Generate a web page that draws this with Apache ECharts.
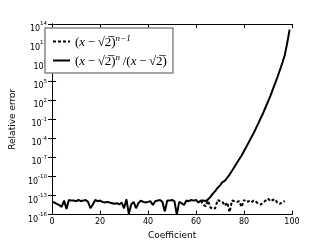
<!DOCTYPE html>
<html><head><meta charset="utf-8">
<script src="https://cdn.jsdelivr.net/npm/echarts@6/dist/echarts.min.js"></script>
<style>html,body{margin:0;padding:0;background:#fff}#c{width:325px;height:245px}</style>
</head><body><div id="c"></div>
<script>
// Series A: (x-sqrt2)^(n-1), coefficients 62..97 (dashed)
const dashStart = 62;
const dashVals = [1.6e-14,4.0e-15,2.0e-15,1.6e-14,1.3e-15,7.9e-16,1.0e-15,2.0e-14,1.3e-14,1.0e-14,
  2.5e-15,7.9e-15,2.5e-16,1.6e-14,1.3e-14,1.0e-14,1.3e-14,1.6e-15,2.0e-14,1.0e-14,
  1.3e-14,7.9e-15,1.6e-14,1.0e-14,5.0e-15,4.0e-15,7.9e-15,1.6e-14,3.2e-14,1.3e-14,
  2.0e-14,2.5e-14,6.3e-15,5.0e-15,1.0e-14,1.3e-14];
// Series B: (x-sqrt2)^n/(x-sqrt2), coefficients 0..99 (solid)
const solidStart = 0;
const solidVals = [1.0e-14,7.9e-15,5.0e-15,3.2e-15,1.6e-15,1.6e-14,7.9e-16,2.0e-14,1.6e-14,1.6e-14,
  1.3e-14,2.0e-14,1.3e-14,1.6e-14,2.0e-14,1.0e-14,1.0e-15,4.0e-15,2.0e-14,1.3e-14,
  1.6e-14,1.0e-14,7.9e-15,1.0e-14,7.9e-15,6.3e-15,5.0e-15,6.3e-15,4.0e-15,7.9e-15,
  1.0e-15,2.5e-14,1.3e-16,4.0e-15,1.0e-14,1.0e-15,6.3e-15,1.6e-14,1.0e-14,7.9e-15,
  1.0e-14,1.3e-14,3.2e-15,1.3e-14,1.6e-14,2.0e-14,1.0e-14,3.2e-16,1.6e-14,1.6e-14,
  2.0e-14,1.3e-14,1.0e-16,1.0e-14,6.3e-15,3.2e-15,1.6e-14,1.3e-14,2.0e-14,1.6e-14,
  2.0e-14,7.9e-15,1.6e-14,1.6e-14,1.3e-14,2.5e-14,6.3e-14,2.0e-13,5.0e-13,1.6e-12,
  4.0e-12,1.3e-11,2.0e-11,6.3e-11,2.0e-10,7.9e-10,3.2e-9,1.3e-8,5.0e-8,2.0e-7,
  1.0e-6,5.0e-6,2.5e-5,1.3e-4,6.3e-4,4.0e-3,2.5e-2,0.16,1.0,7.9,
  63,500,5.0e3,5.0e4,5.0e5,6.3e6,7.9e7,1.3e9,1.0e11,1.3e13];
const xTicks = [0,20,40,60,80,100];
const yExpTicks = [-16,-13,-10,-7,-4,-1,2,5,8,11,14];
const names = ['dash','solid'];

const chart = echarts.init(document.getElementById('c'));
const supLabel = v => {
  const e = Math.round(Math.log10(v));
  return '{b|10}{s|' + e + '}';
};
const F = 'Liberation Serif';
const legendRich = {
  t: {fontFamily:F, fontSize:13, lineHeight:15, verticalAlign:'bottom', color:'#000'},
  i: {fontFamily:F, fontStyle:'italic', fontSize:13, lineHeight:15, verticalAlign:'bottom', color:'#000'},
  s: {fontFamily:F, fontStyle:'italic', fontSize:9, lineHeight:15, verticalAlign:'top', color:'#000'}
};
const T = '\u2009';
const base = '{t|(}{i|x}{t|' + T + '−' + T + '√2̅)}';
const xAxisBase = {type:'value', min:0, max:100, interval:20, splitLine:{show:false},
  axisLine:{show:true, lineStyle:{color:'#000', width:1}},
  axisTick:{show:true, inside:true, length:4, lineStyle:{color:'#000'}}};
const yAxisBase = {type:'log', logBase:10, min:1e-16, max:1e14, interval:3, splitLine:{show:false},
  axisLine:{show:true, lineStyle:{color:'#000', width:1}},
  axisTick:{show:true, inside:true, length:4, lineStyle:{color:'#000'}}};
chart.setOption({
  animation:false,
  backgroundColor:'#fff',
  grid:{left:40.5, right:33, top:24, bottom:25.5, containLabel:false},
  legend:{
    orient:'vertical', left:45, top:28, padding:[6,6,5,7], itemGap:4,
    itemWidth:17, itemHeight:14,
    borderColor:'#888', borderWidth:1.5, backgroundColor:'#fff',
    itemStyle:{opacity:0},
    data:names,
    formatter: n => n === 'dash'
      ? base + '{s|n−1}'
      : base + '{s|n}{t|' + T + '/(}{i|x}{t|' + T + '−' + T + '√2̅)}',
    textStyle:{rich:legendRich}
  },
  xAxis:[
    Object.assign({}, xAxisBase, {position:'bottom', name:'Coefficient', nameLocation:'middle', nameGap:11,
      nameTextStyle:{fontFamily:'DejaVu Sans', fontSize:9, color:'#000'},
      axisLabel:{show:true, margin:3.5, fontFamily:'DejaVu Sans', fontSize:8, color:'#000',
        formatter: v => xTicks.includes(v) ? String(v) : ''}}),
    Object.assign({}, xAxisBase, {position:'top', axisLabel:{show:false}})
  ],
  yAxis:[
    Object.assign({}, yAxisBase, {position:'left', name:'Relative error', nameLocation:'middle', nameGap:26,
      nameTextStyle:{fontFamily:'DejaVu Sans', fontSize:9, color:'#000'},
      axisLabel:{show:true, margin:5, formatter: supLabel, padding:[6,0,0,0],
        rich:{b:{fontFamily:'DejaVu Sans', fontSize:8, color:'#000', lineHeight:12, verticalAlign:'bottom'},
              s:{fontFamily:'DejaVu Sans', fontSize:5.5, color:'#000', lineHeight:12, verticalAlign:'top'}}}}),
    Object.assign({}, yAxisBase, {position:'right', axisLabel:{show:false}})
  ],
  series:[
    {name:'dash', type:'line', symbol:'none', xAxisIndex:0, yAxisIndex:0,
      lineStyle:{color:'#000', width:2, type:[3,2]}, itemStyle:{color:'#000'},
      data: dashVals.map((v,i)=>[dashStart+i, v]), z:2},
    {name:'solid', type:'line', symbol:'none', xAxisIndex:0, yAxisIndex:0,
      lineStyle:{color:'#000', width:2, type:'solid'}, itemStyle:{color:'#000'},
      data: solidVals.map((v,i)=>[solidStart+i, v]), z:3}
  ]
});
</script></body></html>
